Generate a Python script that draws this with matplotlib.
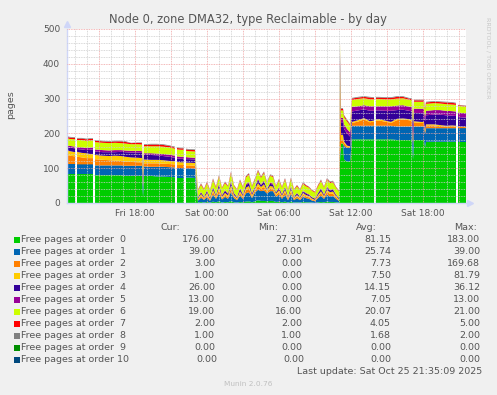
import numpy as np
import matplotlib
matplotlib.use("Agg")
import matplotlib.pyplot as plt
from matplotlib.patches import Rectangle

nan = np.nan

# sample times, hours after Fri 12:00 (nan rows = unknown samples)
hours = [0.33, 0.58, 1.00, 1.08, 1.17, 1.58, 1.92, 2.25, 2.50, 2.58, 2.67, 3.33, 3.83, 4.33, 4.83, 5.17, 5.67,
         6.25, 6.58, 6.67, 6.75, 7.33, 7.83, 8.33, 8.83, 9.33, 9.42, 9.50, 9.83, 10.08, 10.17, 10.25, 10.50, 11.00,
         11.25, 11.5, 11.75, 12.0, 12.25, 12.5, 12.75, 13.0, 13.25, 13.5, 13.75, 14.0, 14.25, 14.5, 14.75, 15.0,
         15.25, 15.5, 15.75, 16.0, 16.25, 16.5, 16.75, 17.0, 17.25, 17.5, 17.75, 18.0, 18.25, 18.5, 18.75, 19.0,
         19.25, 19.5, 19.75, 20.0, 20.25, 20.5, 20.75, 21.0, 21.25, 21.5, 21.75, 22.0, 22.25, 22.5, 22.75, 23.0,
         23.08, 23.17, 23.33, 23.42, 23.67, 23.92, 24.08, 24.58, 25.08, 25.58, 25.92, 26.00, 26.08, 26.33, 26.83,
         27.33, 27.83, 28.33, 28.83, 29.08, 29.17, 29.25, 29.83, 30.08, 30.17, 30.25, 30.92, 31.42, 31.92, 32.42,
         32.75, 32.83, 32.92, 33.58]

order0 = [83, 83, 83, nan, 83, 83, 83, 83, 83, nan, 80, 80, 80, 80, 80, 78, 78, 78, 78, 17, 78, 78, 76, 76, 75, 74,
          nan, 73, 73, 73, nan, 73, 73, 72,
          1, 3, 1, 3, 1, 4, 2, 5, 1, 3, 2, 6, 2, 1, 3, 2, 4, 5, 2, 5, 8, 6, 6, 5, 6, 6, 3, 4, 2, 4, 1, 4, 1, 2, 1, 3,
          2, 2, 1, 0.03, 2, 3, 2, 4, 3, 3, 2, 1,
          120, 171, 171, 125, 119, 119, 183, 183, 183, 183, 183, nan, 183, 183, 183, 183, 181, 181, 181, 181, 125,
          181, 181, 181, 160, 176, 176, 176, 176, 176, 176, nan, 176, 176]
order1 = [29, 29, 29, nan, 28, 28, 28, 28, 28, nan, 28, 28, 28, 28, 28, 29, 29, 29, 29, 26, 27, 26, 28, 28, 28, 28,
          nan, 28, 28, 28, nan, 27, 27, 27,
          6, 12, 8, 14, 5, 20, 10, 22, 9, 15, 10, 26, 12, 7, 18, 10, 24, 26, 12, 25, 30, 28, 30, 22, 28, 28, 15, 20,
          10, 20, 7, 22, 7, 12, 7, 15, 12, 10, 6, 5, 12, 18, 10, 20, 16, 17, 10, 5,
          20, 0, 0, 39, 39, 39, 39, 39, 39, 39, 39, nan, 39, 39, 39, 39, 39, 39, 39, 39, 39, 39, 39, 39, 39, 39, 39,
          39, 39, 39, 39, nan, 39, 39]
order2 = [26, 24, 22, nan, 22, 20, 18, 18, 18, nan, 18, 16, 15, 14, 13, 12, 11, 10, 10, 8, 9, 10, 10, 9, 9, 9,
          nan, 8, 8, 8, nan, 8, 8, 8,
          3, 6, 3, 6, 3, 8, 4, 10, 4, 6, 5, 10, 5, 3, 7, 4, 9, 10, 5, 6, 10, 7, 10, 5, 8, 7, 5, 7, 5, 8, 4, 8, 4, 5,
          4, 6, 5, 4, 3, 2, 5, 7, 4, 8, 7, 7, 4, 3,
          169.68, 10, 10, 8, 4, 3, 8, 12, 18, 10, 12, nan, 14, 15, 12, 8, 18, 20, 18, 16, 15, 12, 10, 10, 8, 8, 8, 6,
          5, 6, 5, nan, 4, 3]
order3 = [14, 13, 12, nan, 14, 13, 14, 12, 12, nan, 12, 12, 12, 14, 14, 14, 13, 13, 12, 10, 11, 10, 10, 10, 9, 9,
          nan, 9, 8, 8, nan, 8, 8, 8,
          3, 5, 3, 6, 3, 6, 4, 8, 4, 5, 5, 9, 4, 3, 6, 4, 7, 8, 4, 5, 9, 5, 8, 4, 7, 6, 4, 6, 4, 6, 3, 6, 3, 4, 3, 5,
          4, 4, 3, 2, 4, 6, 4, 6, 5, 6, 4, 2,
          81.79, 15, 15, 5, 3, 2, 3, 4, 4, 3, 3, nan, 4, 4, 3, 3, 4, 3, 3, 3, 3, 3, 3, 3, 3, 3, 3, 3, 2, 2, 2, nan,
          1, 1]
order4 = [8, 10, 11, nan, 8, 10, 9, 12, 13, nan, 10, 10, 11, 10, 12, 13, 14, 15, 15, 12, 13, 14, 13, 12, 12, 10,
          nan, 10, 10, 10, nan, 10, 10, 10,
          3, 4, 3, 5, 3, 6, 3, 8, 3, 6, 4, 9, 4, 3, 6, 3, 7, 8, 4, 4, 9, 5, 8, 3, 6, 6, 3, 6, 3, 6, 3, 6, 3, 4, 3, 5,
          4, 3, 3, 3, 4, 6, 3, 6, 5, 5, 3, 3,
          36.12, 36, 36, 36, 35, 28, 30, 28, 25, 30, 28, nan, 26, 25, 28, 32, 25, 25, 24, 24, 30, 24, 25, 25, 25, 26,
          28, 30, 30, 28, 28, nan, 27, 26]
order5 = [5, 5, 5, nan, 5, 6, 6, 6, 6, nan, 6, 6, 5, 6, 5, 5, 5, 5, 5, 6, 5, 5, 5, 6, 6, 6, nan, 6, 6, 6, nan, 6,
          5, 5,
          1, 2, 1, 2, 2, 2, 1, 3, 2, 2, 2, 4, 2, 1, 3, 2, 3, 3, 2, 2, 4, 2, 3, 1, 3, 3, 1, 3, 2, 3, 1, 3, 1, 2, 1, 2,
          2, 2, 1, 1, 2, 3, 2, 3, 2, 2, 2, 1,
          13, 13, 13, 13, 13, 12, 13, 12, 12, 13, 13, nan, 12, 12, 13, 13, 13, 13, 12, 12, 13, 12, 13, 13, 13, 13,
          13, 13, 13, 13, 13, nan, 13, 13]
order6 = [21, 20, 21, nan, 21, 21, 21, 21, 20, nan, 21, 21, 21, 21, 20, 20, 19, 19, 19, 20, 20, 20, 21, 21, 21, 20,
          nan, 20, 20, 20, nan, 18, 18, 18,
          19, 20, 19, 21, 18, 20, 19, 20, 19, 20, 19, 21, 20, 19, 20, 19, 20, 21, 18, 20, 21, 19, 21, 17, 20, 19, 16,
          19, 18, 20, 18, 20, 18, 19, 18, 19, 19, 19, 18, 17, 19, 20, 19, 20, 19, 19, 19, 18,
          21, 21, 21, 21, 21, 20, 20, 21, 20, 20, 20, nan, 21, 21, 20, 20, 20, 20, 20, 20, 21, 20, 20, 20, 20, 20,
          20, 19, 19, 19, 19, nan, 19, 19]
order7 = [4, 4, 4, nan, 4, 4, 4, 4, 4, nan, 4, 4, 4, 4, 5, 5, 3, 4, 4, 4, 4, 5, 5, 5, 4, 4, nan, 4, 4, 4, nan, 4,
          4, 4,
          2, 3, 2, 3, 2, 3, 3, 3, 2, 3, 2, 4, 2, 2, 3, 2, 3, 3, 2, 3, 3, 3, 3, 2, 2, 3, 2, 3, 2, 3, 2, 3, 2, 3, 2, 3,
          3, 2, 2, 2, 3, 3, 2, 3, 3, 3, 2, 2,
          4, 5, 5, 4, 4, 3, 4, 4, 4, 5, 4, nan, 4, 4, 4, 4, 5, 4, 3, 4, 4, 4, 4, 4, 4, 4, 4, 4, 5, 5, 4, nan, 2, 2]
order8 = [2, 2, 2, nan, 2, 2, 2, 2, 2, nan, 2, 2, 2, 2, 2, 2, 1, 1, 2, 2, 2, 2, 2, 2, 2, 2, nan, 2, 2, 2, nan, 2,
          2, 2,
          1, 2, 1, 2, 1, 2, 1, 2, 1, 2, 1, 2, 1, 1, 2, 1, 2, 2, 1, 2, 2, 2, 2, 2, 2, 2, 1, 2, 1, 2, 1, 2, 1, 1, 1, 2,
          1, 1, 1, 1, 1, 2, 1, 2, 2, 2, 1, 1,
          2, 2, 2, 2, 2, 2, 2, 2, 2, 2, 2, nan, 2, 2, 2, 2, 2, 2, 2, 2, 2, 2, 2, 2, 2, 2, 2, 2, 2, 2, 2, nan, 1, 1]
order9 = [0.0] * len(hours)
order10 = [0.0] * len(hours)

labels = ["Free pages at order  %d" % i for i in range(10)] + ["Free pages at order 10"]
colors = ["#00CC00", "#0066B3", "#FF8000", "#FFCC00", "#330099", "#990099",
          "#CCFF00", "#FF0000", "#808080", "#008F00", "#00487D"]
cur_vals = ["176.00", "39.00", "3.00", "1.00", "26.00", "13.00", "19.00", "2.00", "1.00", "0.00", "0.00"]
min_vals = ["27.31m", "0.00", "0.00", "0.00", "0.00", "0.00", "16.00", "2.00", "1.00", "0.00", "0.00"]
avg_vals = ["81.15", "25.74", "7.73", "7.50", "14.15", "7.05", "20.07", "4.05", "1.68", "0.00", "0.00"]
max_vals = ["183.00", "39.00", "169.68", "81.79", "36.12", "13.00", "21.00", "5.00", "2.00", "0.00", "0.00"]

tick_hours = [3, 6, 9, 12, 15, 18, 21, 24, 27, 30, 33]
tick_labels = ["", "Fri 18:00", "", "Sat 00:00", "", "Sat 06:00", "", "Sat 12:00", "", "Sat 18:00", ""]

W, H = 497, 395
TXT = "#555555"
plt.rcParams["font.family"] = ["DejaVu Sans"]

fig = plt.figure(figsize=(W / 100, H / 100), dpi=100, facecolor="#F0F0F0")
ax = fig.add_axes([67 / W, 1 - 203 / H, (466 - 67) / W, (203 - 29) / H])
ax.set_facecolor("white")

series = np.array([order0, order1, order2, order3, order4, order5, order6,
                   order7, order8, order9, order10], dtype=float)
tops = np.cumsum(series, axis=0)
bottoms = np.vstack([np.zeros(len(hours)), tops[:-1]])
for i in range(len(series)):
    ax.fill_between(hours, bottoms[i], tops[i], color=colors[i], lw=0, zorder=1)

ax.set_xlim(0.333, 33.583)
ax.set_ylim(0, 500)
ax.set_xticks(tick_hours)
ax.set_xticklabels(tick_labels)
ax.set_xticks(np.arange(1, 34), minor=True)
ax.set_yticks(range(0, 501, 100))
ax.set_yticks(range(0, 501, 20), minor=True)
ax.grid(which="minor", color="#cccccc", ls=(0, (1, 1)), lw=0.6)
ax.grid(which="major", color="#f0a0a0", ls=(0, (1, 1)), lw=0.6)
ax.set_axisbelow(False)
ax.tick_params(which="both", length=0, labelsize=6.5, colors=TXT)
ax.tick_params(axis="y", pad=5)
ax.tick_params(axis="x", pad=4)
for s in ["top", "right"]:
    ax.spines[s].set_visible(False)
for s in ["left", "bottom"]:
    ax.spines[s].set_color("#CFD6F8")
    ax.spines[s].set_linewidth(1.0)
ax.plot(0, 1.03, marker="^", color="#CFD6F8", ms=4, transform=ax.transAxes, clip_on=False)
ax.plot(1.01, 0, marker=">", color="#CFD6F8", ms=4, transform=ax.transAxes, clip_on=False)


def px(x, y):
    return x / W, 1 - y / H


fig.text(*px(248, 19), "Node 0, zone DMA32, type Reclaimable - by day",
         ha="center", va="center", fontsize=8.3, color=TXT)
fig.text(*px(11, 105), "pages", rotation=90, ha="center", va="center", fontsize=6.8, color=TXT)
fig.text(*px(488, 58), "RRDTOOL / TOBI OETIKER", rotation=270, ha="center", va="center",
         fontsize=4.6, color="#c8c8c8")

hy = 228
for txt, xr in zip(["Cur:", "Min:", "Avg:", "Max:"], [180, 278, 377, 477]):
    fig.text(*px(xr, hy), txt, ha="right", va="center", fontsize=6.8, color=TXT)

for i in range(11):
    y = 240 + 12 * i
    fig.patches.append(Rectangle(px(14, y + 3), 6 / W, 6 / H, transform=fig.transFigure,
                                 color=colors[i], lw=0))
    fig.text(*px(21, y), labels[i], ha="left", va="center", fontsize=6.8, color=TXT)
    shift = 2 if i == 10 else 0
    fig.text(*px(215 + shift, y), cur_vals[i], ha="right", va="center", fontsize=6.8, color=TXT)
    mv = min_vals[i]
    if mv.endswith("m"):
        fig.text(*px(302, y), mv[:-1], ha="right", va="center", fontsize=6.8, color=TXT)
        fig.text(*px(302, y), "m", ha="left", va="center", fontsize=6.8, color=TXT)
    else:
        fig.text(*px(302 + shift, y), mv, ha="right", va="center", fontsize=6.8, color=TXT)
    fig.text(*px(391, y), avg_vals[i], ha="right", va="center", fontsize=6.8, color=TXT)
    fig.text(*px(480, y), max_vals[i], ha="right", va="center", fontsize=6.8, color=TXT)

fig.text(*px(482, 372), "Last update: Sat Oct 25 21:35:09 2025", ha="right", va="center",
         fontsize=6.8, color=TXT)
fig.text(*px(248, 384), "Munin 2.0.76", ha="center", va="center", fontsize=5.3, color="#c0c0c0")

fig.savefig("out.png", dpi=100, facecolor=fig.get_facecolor())
